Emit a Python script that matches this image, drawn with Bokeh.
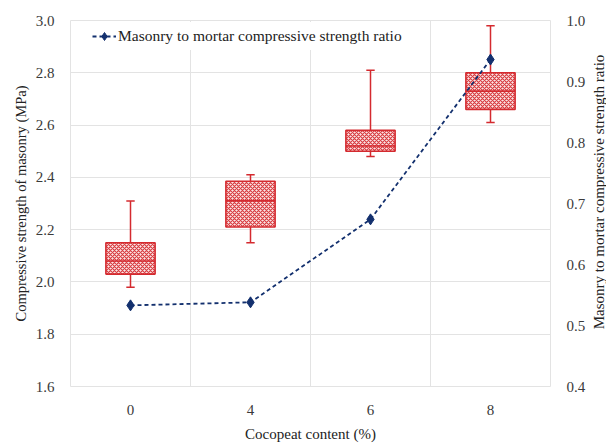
from math import pi
from bokeh.plotting import figure
from bokeh.layouts import row
from bokeh.models import (Range1d, LinearAxis, FixedTicker, Legend, LegendItem,
                          PrintfTickFormatter)
from bokeh.core.properties import value
from bokeh.embed import file_html
from bokeh.resources import INLINE

# Cocopeat content levels (%)
categories = ["0", "4", "6", "8"]

# Compressive strength of masonry (MPa): box-plot statistics
whisker_low = [1.98, 2.15, 2.48, 2.61]
q1 = [2.03, 2.21, 2.50, 2.66]
median = [2.08, 2.31, 2.52, 2.73]
q3 = [2.15, 2.385, 2.58, 2.80]
whisker_high = [2.31, 2.41, 2.81, 2.98]

# Masonry to mortar compressive strength ratio
ratio = [0.533, 0.538, 0.674, 0.936]

left_ticks = [1.6, 1.8, 2.0, 2.2, 2.4, 2.6, 2.8, 3.0]
right_ticks = [0.4, 0.5, 0.6, 0.7, 0.8, 0.9, 1.0]

FONT = "Liberation Serif"
RED = "#d42a2f"
NAVY = "#13306e"

xs = list(range(len(categories)))
box_w = 0.41
cap_w = 0.035

p = figure(width=588, height=444, output_backend="svg", toolbar_location=None,
           x_range=Range1d(-0.5, 3.5), y_range=Range1d(1.6, 3.0),
           min_border_left=70, min_border_right=37, min_border_top=20,
           min_border_bottom=55)
p.extra_y_ranges = {"ratio": Range1d(0.4, 1.0)}
p.outline_line_color = "#e3e3e3"
p.background_fill_color = "white"

# grid: vertical lines between categories, horizontal at the strength ticks
p.xgrid.ticker = FixedTicker(ticks=[0.5, 1.5, 2.5])
p.xgrid.grid_line_color = "#e3e3e3"
p.ygrid.grid_line_color = "#e3e3e3"
p.ygrid.ticker = FixedTicker(ticks=left_ticks)

# axes
p.xaxis.ticker = FixedTicker(ticks=xs)
p.xaxis.major_label_overrides = {i: c for i, c in enumerate(categories)}
p.xaxis.axis_label = "Cocopeat content (%)"
p.yaxis.ticker = FixedTicker(ticks=left_ticks)
p.yaxis.formatter = PrintfTickFormatter(format="%.1f")
p.yaxis.axis_label = "Compressive strength of masonry (MPa)"

right = LinearAxis(y_range_name="ratio", ticker=FixedTicker(ticks=right_ticks),
                   formatter=PrintfTickFormatter(format="%.1f"))
p.add_layout(right, "right")

for ax in [p.xaxis[0], p.yaxis[0], right]:
    ax.axis_line_color = None
    ax.major_tick_line_color = None
    ax.minor_tick_line_color = None
    ax.major_label_text_font = FONT
    ax.major_label_text_font_size = "15px"
    ax.major_label_text_color = "#3a3a3a"
    ax.axis_label_text_font = FONT
    ax.axis_label_text_font_size = "15px"
    ax.axis_label_text_font_style = "normal"
    ax.axis_label_text_color = "#222222"
    ax.major_label_standoff = 10

p.yaxis.axis_label_text_font_size = "14.5px"
p.xaxis.major_label_standoff = 12
p.xaxis.axis_label_standoff = 8
p.yaxis.axis_label_standoff = 4

# whiskers and caps
p.segment(xs, q3, xs, whisker_high, line_color=RED, line_width=1.5)
p.segment(xs, q1, xs, whisker_low, line_color=RED, line_width=1.5)
p.segment([x - cap_w for x in xs], whisker_high, [x + cap_w for x in xs], whisker_high,
          line_color=RED, line_width=1.5)
p.segment([x - cap_w for x in xs], whisker_low, [x + cap_w for x in xs], whisker_low,
          line_color=RED, line_width=1.5)

# hatched boxes with median line
p.vbar(x=xs, width=box_w, bottom=q1, top=q3, fill_color="#fae6e6",
       line_color=RED, line_width=1.6, hatch_pattern="diagonal_cross",
       hatch_color="#d83c41", hatch_scale=4, hatch_weight=1.2)
p.segment([x - box_w / 2 for x in xs], median, [x + box_w / 2 for x in xs], median,
          line_color=RED, line_width=1.6)

# strength ratio line
ln = p.line(xs, ratio, y_range_name="ratio", line_color=NAVY, line_width=1.8,
            line_dash="4 3")
mk = p.scatter(xs, ratio, y_range_name="ratio", marker="diamond", size=11,
               fill_color=NAVY, line_color=NAVY)

legend = Legend(items=[LegendItem(label="Masonry to mortar compressive strength ratio",
                                  renderers=[ln, mk])],
                location=(18, 336))
legend.label_text_font = FONT
legend.label_text_font_size = "15.5px"
legend.label_text_color = "#222222"
legend.border_line_alpha = 0
legend.background_fill_alpha = 1
legend.margin = 0
legend.padding = 4
legend.glyph_width = 24
legend.label_standoff = 2
p.add_layout(legend)

# narrow strip carrying the right-hand axis title, reading bottom to top
q = figure(width=18, height=444, output_backend="svg", toolbar_location=None,
           x_range=Range1d(0, 18), y_range=Range1d(0, 444), min_border=0)
q.axis.visible = False
q.grid.visible = False
q.outline_line_color = None
q.text(x=[10], y=[444 - 208], text=["Masonry to mortar compressive strength ratio"],
       angle=pi / 2, text_align="center", text_baseline="middle",
       text_font=value(FONT), text_font_size="15px", text_color="#222222")

layout = row(p, q, spacing=0)
open("out.html", "w").write(file_html(layout, INLINE))
